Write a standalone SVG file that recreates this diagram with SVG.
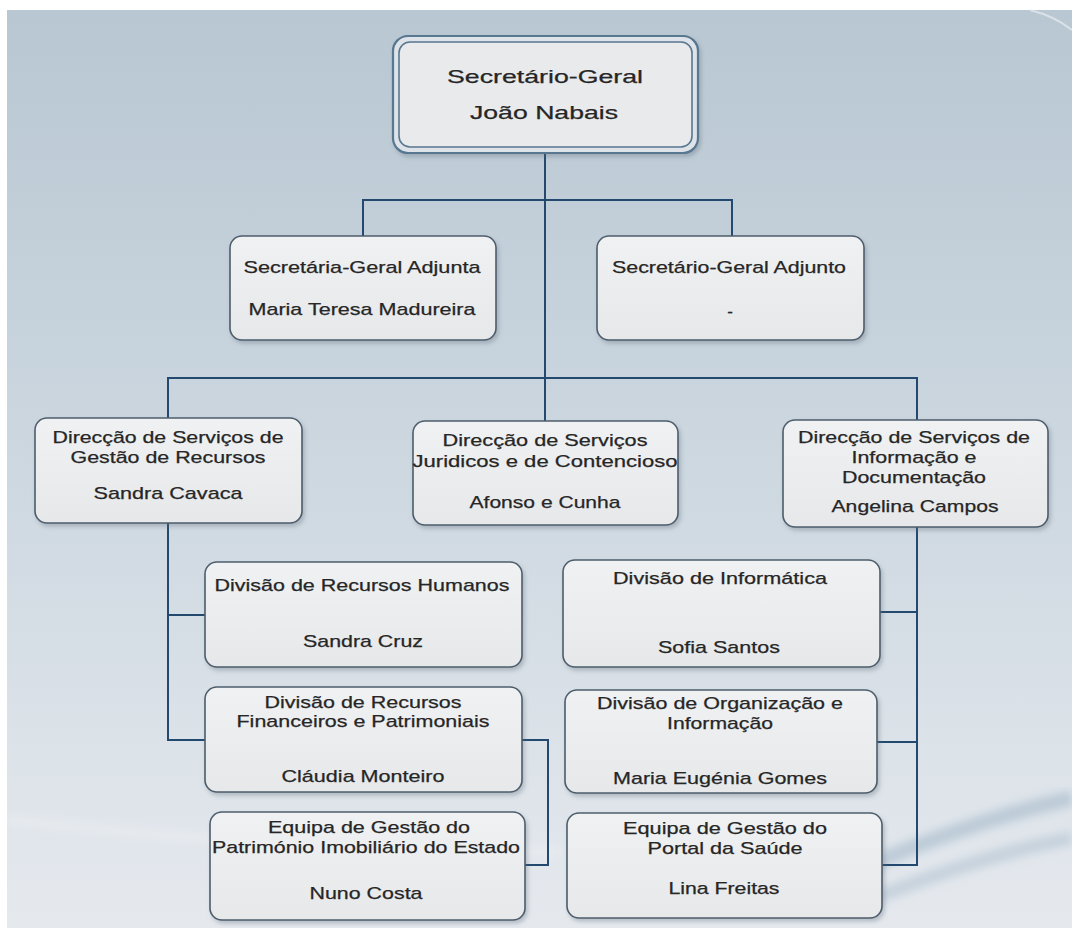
<svg xmlns="http://www.w3.org/2000/svg" width="1072" height="930" viewBox="0 0 1072 930">
<defs>
<linearGradient id="bg" x1="0" y1="0" x2="0" y2="1">
<stop offset="0" stop-color="#b8c7d2"/>
<stop offset="0.45" stop-color="#cbd6df"/>
<stop offset="1" stop-color="#e5e9ee"/>
</linearGradient>
<linearGradient id="boxfill" x1="0" y1="0" x2="0" y2="1">
<stop offset="0" stop-color="#f0f1f2"/>
<stop offset="1" stop-color="#e7e8ea"/>
</linearGradient>
<filter id="sh" x="-10%" y="-10%" width="130%" height="130%">
<feDropShadow dx="2" dy="3" stdDeviation="2" flood-color="#5d6c7a" flood-opacity="0.35"/>
</filter>
<filter id="blur6"><feGaussianBlur stdDeviation="4"/></filter>
<style>
.box{fill:url(#boxfill);stroke:#4d5d6c;stroke-width:1.6;filter:url(#sh)}
.top-outer{fill:#dde3e8;stroke:#587790;stroke-width:2.2;filter:url(#sh)}
.top-inner{fill:#e9eaec;stroke:#587790;stroke-width:1.6}
.t{font-family:"Liberation Sans",Arial,sans-serif;font-size:17px;fill:#262626;stroke:#262626;stroke-width:0.25;text-anchor:middle}
.tt{font-family:"Liberation Sans",Arial,sans-serif;font-size:19px;fill:#262626;stroke:#262626;stroke-width:0.25;text-anchor:middle}
.c{fill:none;stroke:#234a6e;stroke-width:2}
</style>
</defs>
<rect x="0" y="0" width="1072" height="930" fill="#ffffff"/>
<rect x="7" y="10" width="1065" height="918" fill="url(#bg)"/>
<g id="background-swoosh" fill="none" filter="url(#blur6)">
<path d="M7 820 C120 832 260 848 560 852" stroke="#f2f5f7" stroke-opacity="0.45" stroke-width="8"/>
<path d="M870 865 C940 835 1010 812 1072 798" stroke="#a7bacb" stroke-opacity="0.6" stroke-width="16"/>
<path d="M870 900 C950 868 1020 848 1072 838" stroke="#b0c1d0" stroke-opacity="0.55" stroke-width="14"/>
</g>
<path d="M1030 10 C1050 15 1062 22 1072 30" fill="none" stroke="#e8edf1" stroke-opacity="0.7" stroke-width="2"/>
<g id="connectors">
<path class="c" d="M545 153 V378"/>
<path class="c" d="M363 236 V200 H732 V236"/>
<path class="c" d="M168 418 V378 H917 V420"/>
<path class="c" d="M545 378 V421"/>
<path class="c" d="M168 523 V740 H205"/>
<path class="c" d="M168 615 H205"/>
<path class="c" d="M522 740 H548 V865 H525"/>
<path class="c" d="M917 527 V865 H882"/>
<path class="c" d="M880 612 H917"/>
<path class="c" d="M877 742 H917"/>
</g>
<g id="node-secretario-geral">
<rect class="top-outer" x="393" y="36" width="305" height="117" rx="15"/>
<rect class="top-inner" x="399" y="42" width="293" height="105" rx="11"/>
<text class="tt" x="545" y="83" textLength="196" lengthAdjust="spacingAndGlyphs">Secretário-Geral</text>
<text class="tt" x="544" y="119" textLength="148" lengthAdjust="spacingAndGlyphs">João Nabais</text>
</g>
<g id="node-sg-adjunta">
<rect class="box" x="230" y="236" width="266" height="104" rx="12"/>
<text class="t" x="362" y="273" textLength="237" lengthAdjust="spacingAndGlyphs">Secretária-Geral Adjunta</text>
<text class="t" x="362" y="315" textLength="227" lengthAdjust="spacingAndGlyphs">Maria Teresa Madureira</text>
</g>
<g id="node-sg-adjunto">
<rect class="box" x="597" y="236" width="267" height="104" rx="12"/>
<text class="t" x="729" y="273" textLength="234" lengthAdjust="spacingAndGlyphs">Secretário-Geral Adjunto</text>
<text class="t" x="730" y="317">-</text>
</g>
<g id="node-dsgr">
<rect class="box" x="35" y="418" width="267" height="105" rx="12"/>
<text class="t" x="168" y="443" textLength="231" lengthAdjust="spacingAndGlyphs">Direcção de Serviços de</text>
<text class="t" x="168" y="463" textLength="195" lengthAdjust="spacingAndGlyphs">Gestão de Recursos</text>
<text class="t" x="168" y="499" textLength="149" lengthAdjust="spacingAndGlyphs">Sandra Cavaca</text>
</g>
<g id="node-dsjc">
<rect class="box" x="413" y="421" width="265" height="104" rx="12"/>
<text class="t" x="545" y="446" textLength="205" lengthAdjust="spacingAndGlyphs">Direcção de Serviços</text>
<text class="t" x="545" y="467" textLength="265" lengthAdjust="spacingAndGlyphs">Juridicos e de Contencioso</text>
<text class="t" x="545" y="508" textLength="151" lengthAdjust="spacingAndGlyphs">Afonso e Cunha</text>
</g>
<g id="node-dsid">
<rect class="box" x="783" y="420" width="265" height="107" rx="12"/>
<text class="t" x="914" y="443" textLength="232" lengthAdjust="spacingAndGlyphs">Direcção de Serviços de</text>
<text class="t" x="914" y="463" textLength="125" lengthAdjust="spacingAndGlyphs">Informação e</text>
<text class="t" x="914" y="483" textLength="144" lengthAdjust="spacingAndGlyphs">Documentação</text>
<text class="t" x="915" y="512" textLength="167" lengthAdjust="spacingAndGlyphs">Angelina Campos</text>
</g>
<g id="node-drh">
<rect class="box" x="205" y="562" width="317" height="105" rx="12"/>
<text class="t" x="362" y="591" textLength="295" lengthAdjust="spacingAndGlyphs">Divisão de Recursos Humanos</text>
<text class="t" x="363" y="647" textLength="120" lengthAdjust="spacingAndGlyphs">Sandra Cruz</text>
</g>
<g id="node-drfp">
<rect class="box" x="205" y="687" width="317" height="105" rx="12"/>
<text class="t" x="363" y="708" textLength="197" lengthAdjust="spacingAndGlyphs">Divisão de Recursos</text>
<text class="t" x="363" y="727" textLength="253" lengthAdjust="spacingAndGlyphs">Financeiros e Patrimoniais</text>
<text class="t" x="363" y="782" textLength="163" lengthAdjust="spacingAndGlyphs">Cláudia Monteiro</text>
</g>
<g id="node-egpie">
<rect class="box" x="210" y="812" width="315" height="108" rx="12"/>
<text class="t" x="369" y="833" textLength="202" lengthAdjust="spacingAndGlyphs">Equipa de Gestão do</text>
<text class="t" x="366" y="853" textLength="308" lengthAdjust="spacingAndGlyphs">Património Imobiliário do Estado</text>
<text class="t" x="366" y="899" textLength="113" lengthAdjust="spacingAndGlyphs">Nuno Costa</text>
</g>
<g id="node-di">
<rect class="box" x="563" y="560" width="317" height="107" rx="12"/>
<text class="t" x="720" y="584" textLength="214" lengthAdjust="spacingAndGlyphs">Divisão de Informática</text>
<text class="t" x="719" y="653" textLength="122" lengthAdjust="spacingAndGlyphs">Sofia Santos</text>
</g>
<g id="node-doi">
<rect class="box" x="565" y="690" width="312" height="103" rx="12"/>
<text class="t" x="720" y="709" textLength="246" lengthAdjust="spacingAndGlyphs">Divisão de Organização e</text>
<text class="t" x="720" y="729" textLength="106" lengthAdjust="spacingAndGlyphs">Informação</text>
<text class="t" x="720" y="784" textLength="214" lengthAdjust="spacingAndGlyphs">Maria Eugénia Gomes</text>
</g>
<g id="node-egps">
<rect class="box" x="567" y="813" width="315" height="105" rx="12"/>
<text class="t" x="725" y="834" textLength="204" lengthAdjust="spacingAndGlyphs">Equipa de Gestão do</text>
<text class="t" x="725" y="854" textLength="155" lengthAdjust="spacingAndGlyphs">Portal da Saúde</text>
<text class="t" x="724" y="894" textLength="111" lengthAdjust="spacingAndGlyphs">Lina Freitas</text>
</g>
</svg>
